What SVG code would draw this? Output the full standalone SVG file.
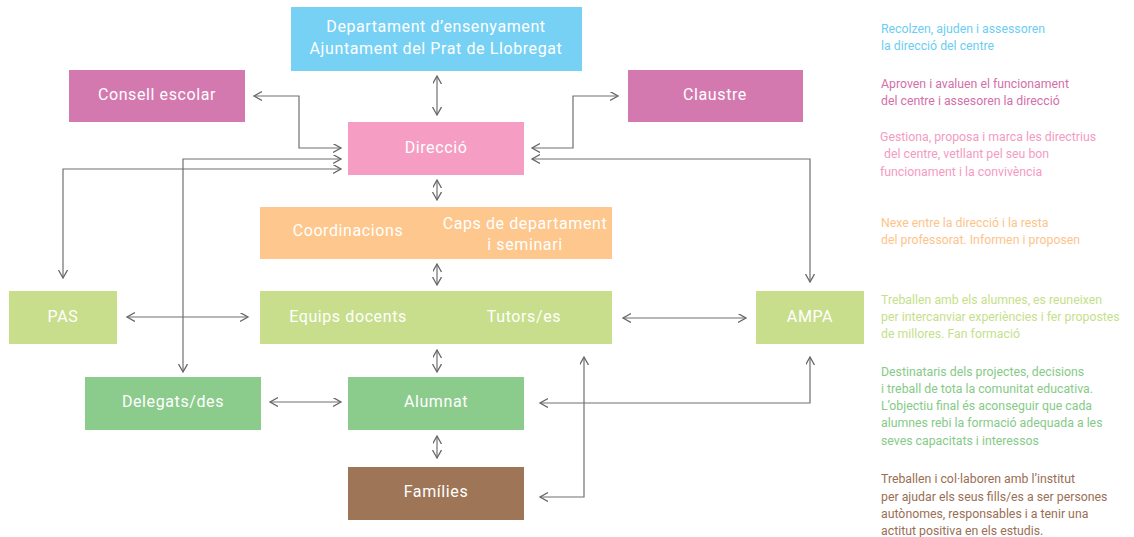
<svg xmlns="http://www.w3.org/2000/svg" width="1134" height="537" viewBox="0 0 1134 537">
<style>
.lbl{font-family:Roboto,"Liberation Sans",sans-serif;font-size:16px;letter-spacing:0.6px;fill:#ffffff;text-anchor:middle}
.note{font-family:Roboto,"Liberation Sans",sans-serif;font-size:12.3px}
.c{fill:none;stroke:#707070;stroke-width:1.2;marker-start:url(#ah);marker-end:url(#ah)}
</style>
<defs>
<marker id="ah" markerUnits="userSpaceOnUse" markerWidth="12" markerHeight="12" refX="8" refY="4.5" orient="auto-start-reverse">
<path d="M0,0 L8,4.5 L0,9" fill="none" stroke="#666666" stroke-width="1.3"/>
</marker>
</defs>
<rect width="1134" height="537" fill="#ffffff"/>

<g id="connectors">
<path class="c" d="M254,96 H299 V148 H341"/>
<path class="c" d="M618,96 H573 V148 H532"/>
<path class="c" d="M341,159 H183 V372"/>
<path class="c" d="M341,169 H63 V278"/>
<path class="c" d="M532,159 H810 V282"/>
<path class="c" d="M127,317 H248"/>
<path class="c" d="M623,318 H746"/>
<path class="c" d="M270,402 H341"/>
<path class="c" d="M540,497 H584 V357"/>
<path class="c" d="M540,403 H810 V357"/>
<path class="c" d="M437,76 V115"/>
<path class="c" d="M437,180 V200"/>
<path class="c" d="M437,264 V285"/>
<path class="c" d="M437,350 V372"/>
<path class="c" d="M437,436 V458"/>
</g>

<g id="departament">
<rect x="291" y="7" width="291" height="64" fill="#76D1F5"/>
<text class="lbl" x="436" y="32">Departament d’ensenyament</text>
<text class="lbl" x="436" y="54">Ajuntament del Prat de Llobregat</text>
</g>
<g id="consell">
<rect x="69" y="70" width="176" height="52" fill="#D479B0"/>
<text class="lbl" x="157" y="100">Consell escolar</text>
</g>
<g id="claustre">
<rect x="628" y="70" width="175" height="52" fill="#D479B0"/>
<text class="lbl" x="715" y="100">Claustre</text>
</g>
<g id="direccio">
<rect x="348" y="122" width="176" height="53" fill="#F59DC3"/>
<text class="lbl" x="436" y="153">Direcció</text>
</g>
<g id="coordinacions">
<rect x="260" y="207" width="352" height="52" fill="#FEC78D"/>
<text class="lbl" x="348" y="236">Coordinacions</text>
<text class="lbl" x="525" y="229">Caps de departament</text>
<text class="lbl" x="525" y="250">i seminari</text>
</g>
<g id="pas">
<rect x="9" y="291" width="108" height="53" fill="#C8DE8C"/>
<text class="lbl" x="63" y="322">PAS</text>
</g>
<g id="equips">
<rect x="260" y="291" width="352" height="53" fill="#C8DE8C"/>
<text class="lbl" x="348" y="322">Equips docents</text>
<text class="lbl" x="524" y="322">Tutors/es</text>
</g>
<g id="ampa">
<rect x="756" y="291" width="108" height="53" fill="#C8DE8C"/>
<text class="lbl" x="810" y="322">AMPA</text>
</g>
<g id="delegats">
<rect x="85" y="377" width="176" height="53" fill="#8BCB8C"/>
<text class="lbl" x="173" y="407">Delegats/des</text>
</g>
<g id="alumnat">
<rect x="348" y="377" width="176" height="53" fill="#8BCB8C"/>
<text class="lbl" x="436" y="407">Alumnat</text>
</g>
<g id="families">
<rect x="348" y="467" width="176" height="53" fill="#9E7556"/>
<text class="lbl" x="436" y="497">Famílies</text>
</g>

<g id="notes">
<text class="note" fill="#6CCDF3"><tspan x="881" y="33">Recolzen, ajuden i assessoren</tspan><tspan x="881" y="50">la direcció del centre</tspan></text>
<text class="note" fill="#D36FAA"><tspan x="881" y="88">Aproven i avaluen el funcionament</tspan><tspan x="881" y="105">del centre i assesoren la direcció</tspan></text>
<text class="note" fill="#F39BC2"><tspan x="880" y="141">Gestiona, proposa i marca les directrius</tspan><tspan x="884" y="158">del centre, vetllant pel seu bon</tspan><tspan x="880" y="176">funcionament i la convivència</tspan></text>
<text class="note" fill="#FDC48A"><tspan x="881" y="227">Nexe entre la direcció i la resta</tspan><tspan x="881" y="244">del professorat. Informen i proposen</tspan></text>
<text class="note" fill="#C5DF8A"><tspan x="881" y="304">Treballen amb els alumnes, es reuneixen</tspan><tspan x="881" y="321">per intercanviar experiències i fer propostes</tspan><tspan x="881" y="338">de millores. Fan formació</tspan></text>
<text class="note" fill="#86CA88"><tspan x="881" y="376">Destinataris dels projectes, decisions</tspan><tspan x="881" y="393">i treball de tota la comunitat educativa.</tspan><tspan x="881" y="410">L’objectiu final és aconseguir que cada</tspan><tspan x="881" y="427">alumnes rebi la formació adequada a les</tspan><tspan x="881" y="445">seves capacitats i interessos</tspan></text>
<text class="note" fill="#9A6E53"><tspan x="881" y="483">Treballen i col·laboren amb l’institut</tspan><tspan x="881" y="501">per ajudar els seus fills/es a ser persones</tspan><tspan x="881" y="518">autònomes, responsables i a tenir una</tspan><tspan x="881" y="535">actitut positiva en els estudis.</tspan></text>
</g>
</svg>
